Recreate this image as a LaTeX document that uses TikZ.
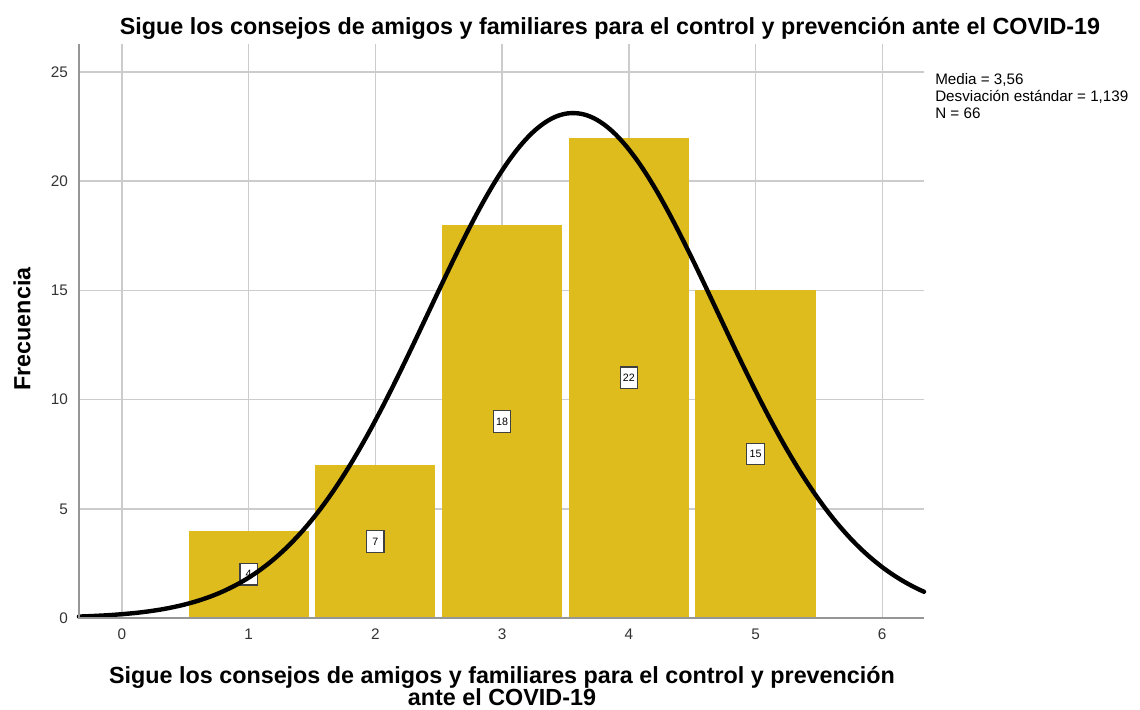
\documentclass[tikz,border=0pt]{standalone}
\usepackage{fontspec}
\setmainfont{Liberation Sans}

\definecolor{barcolor}{RGB}{222,188,30}
\definecolor{gridgray}{RGB}{204,204,204}
\definecolor{axisgray}{RGB}{150,150,150}

\tikzset{
	bar/.style={fill=barcolor, draw=none},
	gridline/.style={draw=gridgray, line width=1.1pt},
	axisline/.style={draw=axisgray, line width=1.3pt},
	countbox/.style={draw=black!75, fill=white, line width=0.9pt, inner sep=1.5pt, minimum height=16pt, minimum width=13pt, font=\fontsize{8}{9}\selectfont},
	ticklabel/.style={font=\fontsize{11.5}{13}\selectfont, text=black!80}
}

\begin{document}
\begin{tikzpicture}[x=0.75pt, y=-0.75pt]
			\useasboundingbox (0,0) rectangle (1140,710);

			\node[font=\bfseries\fontsize{17.5}{20}\selectfont] (title) at (610,28) {Sigue los consejos de amigos y familiares para el control y prevención ante el COVID-19};
			\node[font=\bfseries\fontsize{17.5}{16.5}\selectfont, align=center, inner sep=1pt] (xtitle) at (502,686) {Sigue los consejos de amigos y familiares para el control y prevención\\ante el COVID-19};
			\node[font=\bfseries\fontsize{17.5}{20}\selectfont, rotate=90] (ytitle) at (22,329) {Frecuencia};
			\node[anchor=north west, align=left, font=\fontsize{11.4}{12.75}\selectfont, inner sep=0pt] (stats) at (935,73) {Media = 3,56\\Desviación estándar = 1,139\\N = 66};

			\begin{scope}[xshift=91.5pt, yshift=-463.5pt, x=95.03pt, y=16.38pt]
				\foreach \i in {0,...,6}
					\draw[gridline] (\i,0) -- (\i,26.3);
				\foreach \j in {5,10,...,25}
					\draw[gridline] (-0.34,\j) -- (6.33,\j);

				\foreach \i/\n in {1/4, 2/7, 3/18, 4/22, 5/15}
					\fill[bar] (\i-0.474,0) rectangle (\i+0.474,\n);
				\foreach \i/\n in {1/4, 2/7, 3/18, 4/22, 5/15}
					\node[countbox] (count\i) at (\i,\n/2) {\n};

				\draw[black, line width=3.3pt, line cap=round] plot[domain=-0.34:6.33, samples=160, smooth]
					(\x, {66/(1.139*sqrt(2*pi))*exp(-((\x-3.56)^2)/(2*1.139^2))});

				\draw[axisline] (-0.34,26.3) -- (-0.34,0) -- (6.33,0);

				\foreach \j in {0,5,...,25}
					\node[ticklabel, anchor=east] (ylab\j) at (-0.39,\j) {\j};
				\foreach \i in {0,...,6}
					\node[ticklabel] (xlab\i) at (\i,-0.75) {\i};
			\end{scope}
		\end{tikzpicture}
\end{document}
